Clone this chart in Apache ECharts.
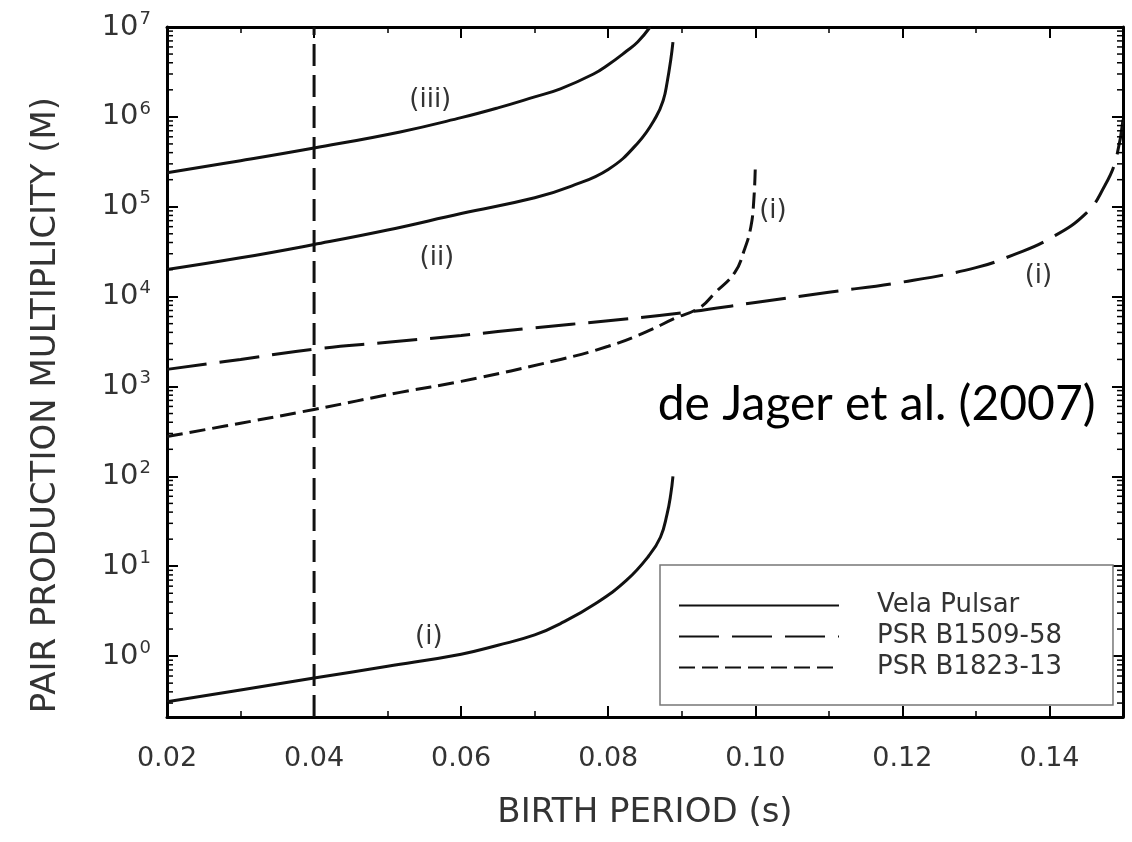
<!DOCTYPE html>
<html><head><meta charset="utf-8">
<script src="https://cdn.jsdelivr.net/npm/echarts@6/dist/echarts.min.js"></script>
<style>html,body{margin:0;padding:0;background:#fff}#c{width:1132px;height:842px}</style>
</head><body><div id="c"></div><script>
// ---- data (birth period s, pair multiplicity M) ----
const xMin = 0.02, xMax = 0.15;
const yMin = 0.21, yMax = 1e7;
const xTickLabels = ['0.02','0.04','0.06','0.08','0.10','0.12','0.14'];
const seriesNames = ['Vela Pulsar','PSR B1509-58','PSR B1823-13'];

const velaIII = [[0.02,2.39e5],[0.03,3.25e5],[0.04,4.5e5],[0.0517,6.8e5],[0.06,9.8e5],[0.065,1.26e6],[0.07,1.67e6],[0.0735,2.05e6],[0.078,3.0e6],[0.08,3.8e6],[0.0825,5.4e6],[0.084,6.8e6],[0.0857,1e7]];
const velaII = [[0.02,2.0e4],[0.03,2.7e4],[0.04,3.8e4],[0.05,5.5e4],[0.06,8.4e4],[0.07,1.26e5],[0.075,1.7e5],[0.08,2.6e5],[0.084,5.1e5],[0.0865,1.0e6],[0.0875,1.55e6],[0.088,2.4e6],[0.0885,4.3e6],[0.0888,6.8e6]];
const velaI = [[0.02,0.31],[0.03,0.42],[0.04,0.57],[0.05,0.77],[0.06,1.05],[0.065,1.32],[0.07,1.72],[0.0735,2.3],[0.0784,3.9],[0.0825,7.0],[0.0855,13],[0.0871,21],[0.088,38],[0.0885,63],[0.0888,100]];
const b1509 = [[0.02,1.55e3],[0.03,2.0e3],[0.04,2.6e3],[0.05,3.1e3],[0.06,3.7e3],[0.07,4.5e3],[0.08,5.4e3],[0.09,6.6e3],[0.10,8.6e3],[0.11,1.12e4],[0.12,1.45e4],[0.13,2.1e4],[0.135,2.9e4],[0.14,4.4e4],[0.145,8.5e4],[0.1475,1.7e5],[0.149,3.3e5],[0.15,9.3e5]];
const b1823 = [[0.02,278],[0.03,390],[0.04,555],[0.0517,860],[0.06,1.14e3],[0.0735,2.0e3],[0.08,2.8e3],[0.085,4.0e3],[0.089,5.7e3],[0.0925,7.6e3],[0.0945,1.1e4],[0.0972,1.85e4],[0.0985,3.3e4],[0.0994,6.0e4],[0.0998,1.2e5],[0.1,2.8e5]];
const markerPeriod = [[0.04,yMin],[0.04,yMax]];

const minorMantissas = [2,3,4,5,6,7,8,9];
const minorDecades = [-1,0,1,2,3,4,5,6];

const annotations = [
  {text:'(iii)', x:0.0558, y:1.55e6},
  {text:'(ii)',  x:0.0567, y:2.7e4},
  {text:'(i)',   x:0.0556, y:1.63},
  {text:'(i)',   x:0.1024, y:8.8e4},
  {text:'(i)',   x:0.1385, y:1.67e4}
];
const credit = {text:'de Jager et al. (2007)', x:0.1165, y:631};

// ---- build ----
const yMinor = [];
minorDecades.forEach(d => minorMantissas.forEach(m => {
  const v = m * Math.pow(10, d);
  if (v > yMin && v < yMax) yMinor.push([xMin, v]);
}));

const FONT = 'DejaVu Sans';
const TXT = '#333';
const LINE = '#111';

const chart = echarts.init(document.getElementById('c'), null, {renderer:'canvas'});

const xAxisBase = {
  type:'value', min:xMin, max:xMax, interval:0.02,
  splitLine:{show:false},
  axisLine:{show:true, onZero:false, lineStyle:{color:'#000', width:3}},
  axisTick:{show:true, inside:true, length:11, lineStyle:{color:'#000', width:2}},
  minorTick:{show:true, splitNumber:2, length:6, lineStyle:{color:'#000', width:1.5}},
  minorSplitLine:{show:false}
};
const yAxisBase = {
  type:'log', logBase:10, min:yMin, max:yMax,
  splitLine:{show:false},
  axisLine:{show:true, onZero:false, lineStyle:{color:'#000', width:3}},
  axisTick:{show:true, inside:true, length:11, lineStyle:{color:'#000', width:2}},
  minorTick:{show:false}
};

function curve(name, data, dash) {
  return {name:name, type:'line', data:data, showSymbol:false, symbol:'none', smooth:0.45,
    lineStyle:{color:LINE, width:3, type:dash}, itemStyle:{color:LINE}};
}

chart.setOption({
  animation:false,
  backgroundColor:'#fff',
  grid:{left:167, right:9, top:27, bottom:125, containLabel:false},
  xAxis:[
    Object.assign({}, xAxisBase, {
      position:'bottom',
      name:'BIRTH PERIOD (s)', nameLocation:'middle', nameGap:79,
      nameTextStyle:{fontFamily:FONT, fontSize:34, color:TXT},
      axisLabel:{show:true, margin:28, fontFamily:FONT, fontSize:27, color:TXT,
        formatter:function(v){ const s = v.toFixed(2); return xTickLabels.indexOf(s) >= 0 ? s : ''; }}
    }),
    Object.assign({}, xAxisBase, {position:'top', axisLabel:{show:false}})
  ],
  yAxis:[
    Object.assign({}, yAxisBase, {
      position:'left',
      name:'PAIR PRODUCTION MULTIPLICITY (M)', nameLocation:'middle', nameGap:104,
      nameTextStyle:{fontFamily:FONT, fontSize:34, color:TXT, padding:[0,66,0,0]},
      axisLabel:{show:true, margin:16, fontFamily:FONT, fontSize:29, color:TXT, lineHeight:34,
        formatter:function(v){
          const e = Math.log10(v), r = Math.round(e);
          if (Math.abs(e - r) > 1e-6) return '';
          return '10{s|' + r + '}';
        },
        rich:{s:{fontFamily:FONT, fontSize:18, color:TXT, verticalAlign:'top', lineHeight:18, padding:[0,0,0,1]}}
      }
    }),
    Object.assign({}, yAxisBase, {position:'right', axisLabel:{show:false}})
  ],
  legend:{
    data:seriesNames, orient:'vertical', left:660, top:565,
    itemWidth:160, itemHeight:14, itemGap:0,
    padding:[25,51,22,18],
    borderColor:'#777', borderWidth:1.5, backgroundColor:'#fff',
    itemStyle:{opacity:0},
    textStyle:{fontFamily:FONT, fontSize:26, color:TXT, lineHeight:31, padding:[0,0,0,33]},
    selectedMode:false
  },
  series:[
    curve('Vela Pulsar', velaIII, 'solid'),
    curve('Vela Pulsar', velaII, 'solid'),
    curve('Vela Pulsar', velaI, 'solid'),
    curve('PSR B1509-58', b1509, [40,13]),
    curve('PSR B1823-13', b1823, [16,7]),
    {name:'marker', type:'line', data:markerPeriod, showSymbol:false, symbol:'none',
      lineStyle:{color:LINE, width:3, type:[22,9]}, itemStyle:{color:LINE}, z:1},
    {name:'yMinorTicks', type:'custom', data:yMinor, silent:true, z:10,
      renderItem:function(params, api){
        const v = api.value(1);
        const pL = api.coord([xMin, v]);
        const pR = api.coord([xMax, v]);
        return {type:'group', children:[
          {type:'line', shape:{x1:pL[0], y1:pL[1], x2:pL[0]+6, y2:pL[1]}, style:{stroke:'#000', lineWidth:1.5}},
          {type:'line', shape:{x1:pR[0], y1:pR[1], x2:pR[0]-6, y2:pR[1]}, style:{stroke:'#000', lineWidth:1.5}}
        ]};
      }}
  ]
});

// annotations anchored to data coordinates
const g = annotations.map(a => {
  const p = chart.convertToPixel({gridIndex:0}, [a.x, a.y]);
  return {type:'text', x:p[0], y:p[1], z:20,
    style:{text:a.text, fontFamily:FONT, fontSize:26, fill:TXT, align:'center', verticalAlign:'middle'}};
});
const pc = chart.convertToPixel({gridIndex:0}, [credit.x, credit.y]);
g.push({type:'text', x:pc[0], y:pc[1], z:20,
  style:{text:credit.text, fontFamily:'Lato', fontSize:48, fill:'#000', align:'center', verticalAlign:'middle'}});
chart.setOption({graphic:g});
</script></body></html>
